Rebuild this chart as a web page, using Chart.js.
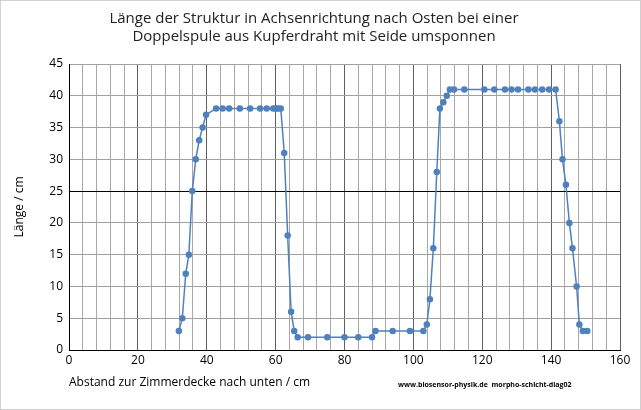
<!DOCTYPE html>
<html><head><meta charset="utf-8">
<script src="https://cdn.jsdelivr.net/npm/chart.js@4"></script>
<style>html,body{margin:0;padding:0;background:#fff}#w{width:641px;height:410px;position:relative}</style>
</head><body><div id="w"><canvas id="c"></canvas></div>
<script>
const xValues=[31.9,32.9,33.9,34.8,35.8,36.8,37.8,38.8,39.8,42.7,44.6,46.5,49.6,52.6,55.5,57.4,59.3,60.1,60.7,61.5,62.5,63.5,64.5,65.4,66.4,69.4,75,80,84,88,89,94,99,102.9,103.9,104.8,105.8,106.8,107.7,108.7,109.7,110.6,111.8,114.8,120.6,123.5,126.6,128.5,130.4,133.4,135.3,137.4,139.4,141.3,142.4,143.3,144.3,145.3,146.2,147.4,148.2,149.2,150.5];
const yValues=[3,5,12,15,25,30,33,35,37,38,38,38,38,38,38,38,38,38,38,38,31,18,6,3,2,2,2,2,2,2,3,3,3,3,4,8,16,28,38,39,40,41,41,41,41,41,41,41,41,41,41,41,41,41,36,30,26,20,16,10,4,3,3];
const titleLines=["Länge der Struktur in Achsenrichtung nach Osten bei einer","Doppelspule aus Kupferdraht mit Seide umsponnen"];
const xTitle="Abstand zur Zimmerdecke nach unten / cm";
const yTitle="Länge / cm";
const credit="www.biosensor-physik.de  morpho-schicht-diag02";
const pts=xValues.map((x,i)=>({x,y:yValues[i]}));
const F="'Open Sans', 'Liberation Sans', sans-serif";
const extras={id:'extras',afterDraw(ch){const c=ch.ctx;c.save();c.strokeStyle='#d0d0d0';c.lineWidth=1;c.strokeRect(0.5,0.5,640,409);
c.fillStyle='#000';c.font="bold 7px "+F;c.textAlign='left';c.textBaseline='middle';c.fillText(credit,398,385);c.restore();}};
new Chart(document.getElementById('c'),{type:'scatter',
data:{datasets:[{data:pts,showLine:true,borderColor:'#4f81bd',backgroundColor:'#4f81bd',borderWidth:1.5,pointRadius:2.5,pointHoverRadius:2.5}]},
options:{responsive:true,maintainAspectRatio:false,animation:false,
layout:{padding:{left:8,right:21,top:0,bottom:16}},
plugins:{legend:{display:false},tooltip:{enabled:false},
title:{display:true,text:titleLines,color:'#222',font:{family:F,size:15,weight:'normal'},padding:{top:10,bottom:18},lineHeight:1.5}},
scales:{
x:{type:'linear',min:0,max:160,ticks:{stepSize:4,autoSkip:false,maxRotation:0,color:'#000',font:{family:F,size:12},callback:v=>v%20===0?v:''},
grid:{color:c=>c.tick&&c.tick.value%20===0?'#606060':'#a8a8a8',lineWidth:1,drawTicks:false},border:{color:'#000'},
title:{display:true,text:xTitle,color:'#000',font:{family:F,size:12},padding:{top:0},align:'start'},
afterFit:s=>{s.height=44;}},
y:{min:0,max:45,ticks:{stepSize:5,color:'#000',font:{family:F,size:12},padding:6},
grid:{color:c=>c.tick&&c.tick.value===25?'#000':'#a0a0a0',lineWidth:1,drawTicks:false},border:{color:'#000'},
title:{display:true,text:yTitle,color:'#000',font:{family:F,size:12},padding:{bottom:2}},
afterFit:s=>{s.width=61;}}
}},plugins:[extras]});
</script></body></html>
